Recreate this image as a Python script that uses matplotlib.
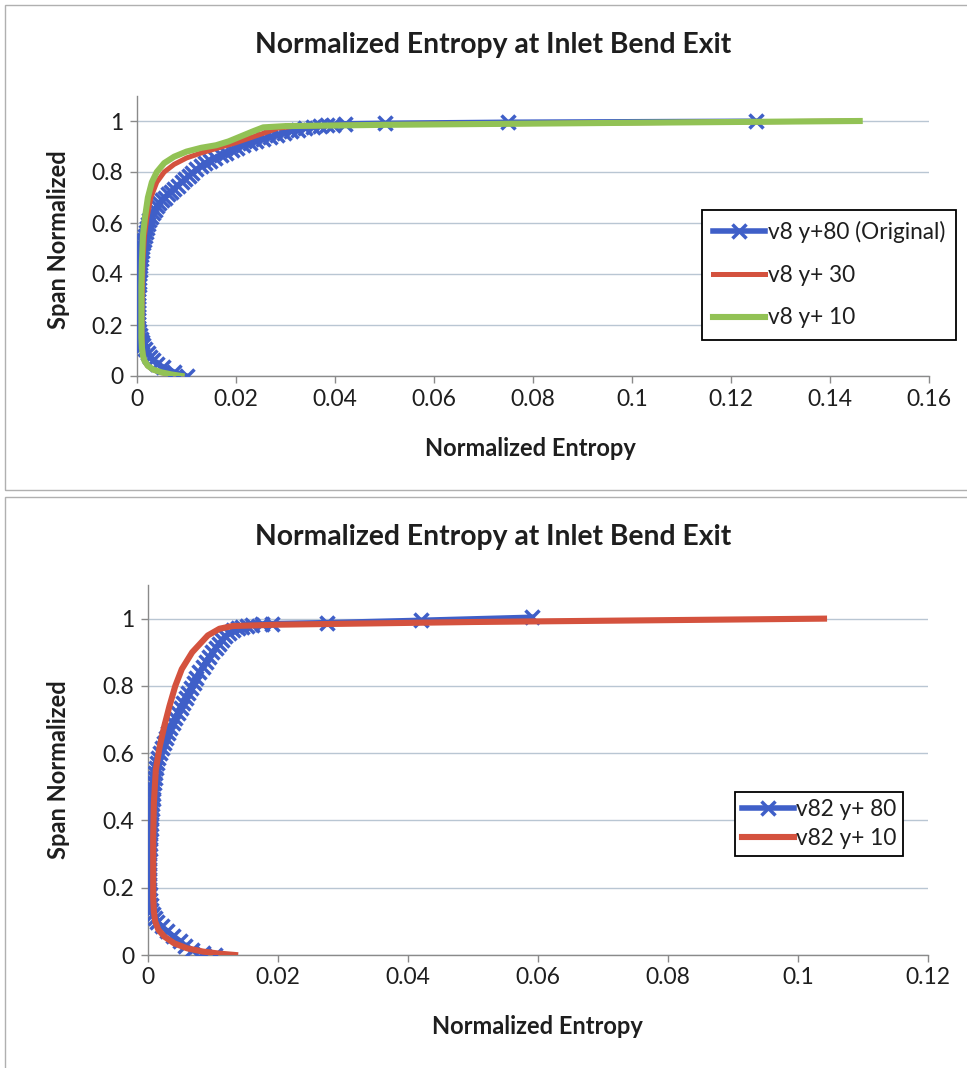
import matplotlib
matplotlib.use("Agg")
import matplotlib.pyplot as plt
from matplotlib.patches import Rectangle
from matplotlib.ticker import FuncFormatter, MultipleLocator

plt.rcParams['font.family'] = ['Lato', 'DejaVu Sans']

# ---------------- data: top chart ----------------
top_blue_x = [0.0100, 0.0075, 0.0053, 0.0040, 0.0032, 0.0026, 0.0022, 0.0017, 0.0013, 0.0010,
              0.0008, 0.0006, 0.0005, 0.0003, 0.0003, 0.0002, 0.0002, 0.0002, 0.0002,
              0.0002, 0.0003, 0.0003, 0.0003, 0.0003, 0.0004, 0.0004, 0.0005, 0.0005, 0.0006,
              0.0006, 0.0007, 0.0008, 0.0009, 0.0010, 0.0011, 0.0012, 0.0014, 0.0016, 0.0018,
              0.0020, 0.0022, 0.0025, 0.0028, 0.0032, 0.0036, 0.0040, 0.0045, 0.0050, 0.0056,
              0.0062, 0.0068, 0.0075, 0.0082, 0.0090, 0.0097, 0.0105, 0.0112, 0.0120, 0.0129,
              0.0138, 0.0148, 0.0158, 0.0169, 0.0180, 0.0191, 0.0203, 0.0215, 0.0228, 0.0241,
              0.0255, 0.0269, 0.0283, 0.0297, 0.0312, 0.0326, 0.0340, 0.0355, 0.0370, 0.0383,
              0.0395, 0.0420, 0.0500, 0.0750, 0.1250]
top_blue_y = [0.000, 0.015, 0.035, 0.048, 0.063, 0.076, 0.090, 0.105, 0.120, 0.133,
              0.146, 0.160, 0.175, 0.190, 0.205, 0.220, 0.235, 0.250, 0.265,
              0.280, 0.295, 0.310, 0.325, 0.340, 0.355, 0.370, 0.385, 0.400, 0.415,
              0.430, 0.445, 0.460, 0.475, 0.490, 0.505, 0.520, 0.535, 0.550, 0.565,
              0.580, 0.595, 0.610, 0.625, 0.640, 0.652, 0.665, 0.677, 0.690, 0.700,
              0.712, 0.723, 0.735, 0.747, 0.760, 0.772, 0.785, 0.797, 0.810, 0.822,
              0.835, 0.845, 0.855, 0.865, 0.875, 0.885, 0.895, 0.904, 0.913, 0.922,
              0.930, 0.938, 0.946, 0.953, 0.960, 0.966, 0.972, 0.977, 0.981, 0.984,
              0.986, 0.989, 0.991, 0.995, 0.999]

top_red_x = [0.0090, 0.0068, 0.0048, 0.0032, 0.0021, 0.0015, 0.0012, 0.0011, 0.0010, 0.0010,
             0.0011, 0.0012, 0.0015, 0.0020, 0.0028, 0.0040, 0.0055, 0.0075, 0.0100, 0.0130,
             0.0165, 0.0200, 0.0230, 0.0260, 0.0285, 0.0320, 0.0500, 0.1000, 0.1450]
top_red_y = [0.000, 0.006, 0.014, 0.025, 0.040, 0.060, 0.080, 0.110, 0.150, 0.250,
             0.350, 0.450, 0.550, 0.620, 0.700, 0.760, 0.800, 0.830, 0.855, 0.875,
             0.895, 0.915, 0.935, 0.955, 0.972, 0.980, 0.986, 0.993, 1.000]

top_green_x = [0.0090, 0.0070, 0.0050, 0.0033, 0.0022, 0.0015, 0.0012, 0.0010, 0.0009, 0.0009,
               0.0009, 0.0010, 0.0012, 0.0016, 0.0022, 0.0030, 0.0040, 0.0055, 0.0075, 0.0100,
               0.0130, 0.0160, 0.0185, 0.0210, 0.0235, 0.0255, 0.0300, 0.0500, 0.1000, 0.1460]
top_green_y = [0.000, 0.006, 0.014, 0.025, 0.040, 0.060, 0.080, 0.110, 0.150, 0.250,
               0.350, 0.450, 0.550, 0.620, 0.700, 0.760, 0.800, 0.835, 0.860, 0.880,
               0.895, 0.905, 0.920, 0.940, 0.960, 0.975, 0.980, 0.985, 0.993, 1.000]

top_labels = ["v8 y+80 (Original)", "v8 y+ 30", "v8 y+ 10"]

# ---------------- data: bottom chart ----------------
bot_blue_x = [0.0103, 0.0085, 0.0068, 0.0057, 0.0049, 0.0039, 0.0029, 0.0021, 0.0014, 0.0010,
              0.0007, 0.0005, 0.0004, 0.0003,
              0.0003, 0.0002, 0.0002, 0.0002, 0.0002, 0.0002,
              0.0002, 0.0002, 0.0002, 0.0003, 0.0003, 0.0003, 0.0003, 0.0004, 0.0004, 0.0005,
              0.0005, 0.0006, 0.0006, 0.0007, 0.0007, 0.0008, 0.0009, 0.0010, 0.0011, 0.0012,
              0.0014, 0.0016, 0.0018, 0.0021, 0.0024, 0.0027, 0.0030, 0.0034, 0.0038, 0.0042,
              0.0046, 0.0050, 0.0054, 0.0058, 0.0062, 0.0066, 0.0070, 0.0074, 0.0079, 0.0084,
              0.0089, 0.0094, 0.0099, 0.0104, 0.0109, 0.0114, 0.0119, 0.0125, 0.0131, 0.0138,
              0.0145, 0.0152, 0.0160, 0.0175, 0.0190, 0.0275, 0.0420, 0.0590]
bot_blue_y = [0.000, 0.007, 0.015, 0.028, 0.042, 0.056, 0.072, 0.085, 0.098, 0.110,
              0.122, 0.134, 0.150, 0.165,
              0.180, 0.195, 0.210, 0.225, 0.240, 0.255,
              0.270, 0.285, 0.300, 0.315, 0.330, 0.345, 0.360, 0.375, 0.390, 0.405,
              0.420, 0.435, 0.450, 0.465, 0.480, 0.495, 0.510, 0.525, 0.540, 0.555,
              0.570, 0.585, 0.600, 0.615, 0.630, 0.645, 0.660, 0.675, 0.690, 0.705,
              0.720, 0.735, 0.750, 0.765, 0.780, 0.795, 0.810, 0.825, 0.840, 0.855,
              0.870, 0.885, 0.900, 0.912, 0.925, 0.937, 0.948, 0.957, 0.965, 0.971,
              0.975, 0.979, 0.982, 0.984, 0.985, 0.988, 0.995, 1.004]

bot_red_x = [0.0134, 0.0110, 0.0085, 0.0060, 0.0040, 0.0025, 0.0016, 0.0011, 0.0009, 0.0008,
             0.0008, 0.0008, 0.0009, 0.0012, 0.0018, 0.0025, 0.0033, 0.0042, 0.0052, 0.0068,
             0.0080, 0.0092, 0.0110, 0.0130, 0.0200, 0.0500, 0.1040]
bot_red_y = [0.000, 0.004, 0.010, 0.020, 0.035, 0.055, 0.075, 0.100, 0.130, 0.170,
             0.250, 0.350, 0.450, 0.550, 0.620, 0.680, 0.740, 0.800, 0.850, 0.900,
             0.925, 0.950, 0.970, 0.978, 0.982, 0.990, 1.000]

bot_labels = ["v82 y+ 80", "v82 y+ 10"]

title = "Normalized Entropy at Inlet Bend Exit"
xlabel = "Normalized Entropy"
ylabel = "Span Normalized"

BLUE = "#3F5FC8"
RED = "#D4523E"
GREEN = "#92C255"
GRID = "#B9C6D3"
AXC = "#8A8A8A"
TXT = "#1E1E1E"

W, H = 967, 1068
fig = plt.figure(figsize=(W / 100, H / 100), dpi=100)


def px_rect(l, t, r, b):
    return [l / W, 1 - b / H, (r - l) / W, (b - t) / H]


# chart-area borders
for (l, t, r, b) in [(5, 5, 975, 490), (5, 497, 975, 1075)]:
    fig.patches.append(Rectangle((l / W, 1 - b / H), (r - l) / W, (b - t) / H,
                                 transform=fig.transFigure, fill=False,
                                 edgecolor="#B0B0B0", linewidth=1.0))

fmt = FuncFormatter(lambda v, p: ("%g" % round(v, 4)))


def style_axes(ax, xmax, xstep):
    ax.set_xlim(0, xmax)
    ax.set_ylim(0, 1.1)
    ax.xaxis.set_major_locator(MultipleLocator(xstep))
    ax.yaxis.set_major_locator(MultipleLocator(0.2))
    ax.xaxis.set_major_formatter(fmt)
    ax.yaxis.set_major_formatter(fmt)
    ax.grid(axis="y", color=GRID, linewidth=1.0)
    ax.set_axisbelow(True)
    for s in ["top", "right"]:
        ax.spines[s].set_visible(False)
    for s in ["left", "bottom"]:
        ax.spines[s].set_color(AXC)
        ax.spines[s].set_linewidth(1.0)
    ax.tick_params(axis="both", colors=AXC, labelcolor=TXT, labelsize=16.5,
                   length=5, width=1, direction="out")
    ax.tick_params(axis="x", pad=4)
    ax.tick_params(axis="y", pad=5)
    ax.set_facecolor("white")


def add_legend(ax, anchor, spacing, bpad, fs):
    leg = ax.legend(loc="upper left", bbox_to_anchor=anchor,
                    bbox_transform=fig.transFigure, fontsize=fs, frameon=True,
                    fancybox=False, edgecolor="black", framealpha=1, handlelength=2.3,
                    handletextpad=0.1, labelspacing=spacing, borderpad=bpad, numpoints=1,
                    borderaxespad=0)
    leg.get_frame().set_linewidth(1.3)
    for t in leg.get_texts():
        t.set_color(TXT)


# ---------------- top chart ----------------
ax1 = fig.add_axes(px_rect(137, 95.5, 929, 376))
style_axes(ax1, 0.16, 0.02)
ax1.plot(top_blue_x, top_blue_y, color=BLUE, linewidth=4.0, marker="x",
         markersize=10, markeredgewidth=2.5, label=top_labels[0], zorder=3)
ax1.plot(top_red_x, top_red_y, color=RED, linewidth=3.6, label=top_labels[1], zorder=4)
ax1.plot(top_green_x, top_green_y, color=GREEN, linewidth=4.4, label=top_labels[2], zorder=5)
add_legend(ax1, (702 / W, 1 - 210 / H), 0.95, 0.5, 16.3)

fig.text(493 / W, 1 - 45 / H, title, ha="center", va="center", fontsize=20.3,
         fontweight="bold", color=TXT)
fig.text(530 / W, 1 - 448 / H, xlabel, ha="center", va="center", fontsize=17,
         fontweight="bold", color=TXT)
fig.text(58 / W, 1 - 240 / H, ylabel, ha="center", va="center", rotation=90,
         fontsize=17, fontweight="bold", color=TXT)

# ---------------- bottom chart ----------------
ax2 = fig.add_axes(px_rect(148, 585, 928, 955))
style_axes(ax2, 0.12, 0.02)
ax2.plot(bot_blue_x, bot_blue_y, color=BLUE, linewidth=4.0, marker="x",
         markersize=10, markeredgewidth=2.5, label=bot_labels[0], zorder=3)
ax2.plot(bot_red_x, bot_red_y, color=RED, linewidth=4.4, label=bot_labels[1], zorder=4)
add_legend(ax2, (735 / W, 1 - 792 / H), 0.35, 0.3, 16.3)

fig.text(493 / W, 1 - 537 / H, title, ha="center", va="center", fontsize=20.3,
         fontweight="bold", color=TXT)
fig.text(537 / W, 1 - 1026 / H, xlabel, ha="center", va="center", fontsize=17,
         fontweight="bold", color=TXT)
fig.text(58 / W, 1 - 770 / H, ylabel, ha="center", va="center", rotation=90,
         fontsize=17, fontweight="bold", color=TXT)

fig.savefig("out.png", dpi=100, facecolor="white")
